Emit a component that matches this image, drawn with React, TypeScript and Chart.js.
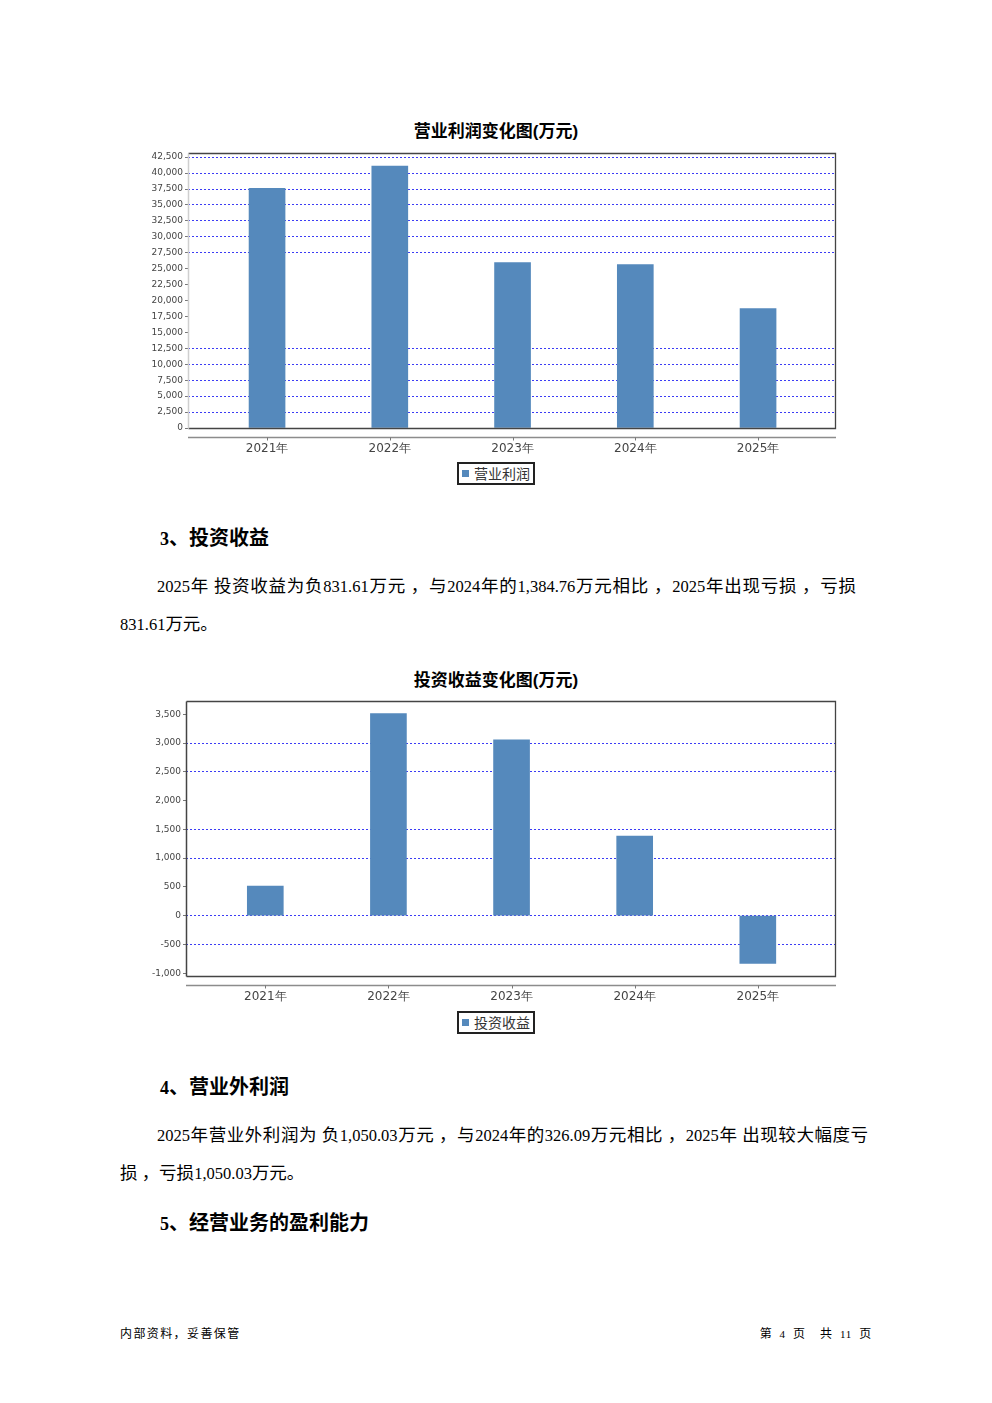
import React, { useEffect, useRef } from 'react';
import { Chart, registerables } from 'chart.js';

Chart.register(...registerables);

// ---- data ----
const categories = ['2021年', '2022年', '2023年', '2024年', '2025年'];
const operatingProfit = [37600, 41090, 25970, 25660, 18730];
const investmentIncome = [516, 3515, 3057, 1384.76, -831.61];

// axis settings (tick labels are multiples of the step)
const profitAxisMin = 0;
const profitAxisMax = 43150;
const profitStep = 2500;
const investAxisMin = -1049;
const investAxisMax = 3732;
const investStep = 500;
// grid lines that are not visible in the reference
const profitHiddenGrid = [0, 15000, 17500, 20000, 22500, 25000];
const investHiddenGrid = [3500, 2000, 500, -1000];

const xMin = -0.644;
const xMax = 4.635;

const BAR_COLOR = '#5589bc';
const GRID_COLOR = '#3c3cf5';

type BarProps = {
  label: string;
  values: number[];
  yMin: number;
  yMax: number;
  step: number;
  hidden: number[];
  yWidth: number;
  leftBorderColor: string;
  left: number;
  top: number;
};

function BarChart(p: BarProps) {
  const ref = useRef<HTMLCanvasElement>(null);
  useEffect(() => {
    const framePlugin = {
      id: 'frame',
      afterDraw(chart: any) {
        const { ctx, chartArea: a, scales } = chart;
        ctx.save();
        // category axis line below the plot
        const ay = Math.round(a.bottom + 9) + 0.5;
        ctx.strokeStyle = '#8c8c8c';
        ctx.lineWidth = 1.5;
        ctx.beginPath();
        ctx.moveTo(a.left, ay);
        ctx.lineTo(a.right, ay);
        ctx.stroke();
        ctx.strokeStyle = '#777';
        ctx.lineWidth = 1;
        categories.forEach((_, i) => {
          const x = Math.round(scales.x.getPixelForValue(i)) + 0.5;
          ctx.beginPath();
          ctx.moveTo(x, ay);
          ctx.lineTo(x, ay + 3);
          ctx.stroke();
        });
        // plot frame
        const l = Math.round(a.left) + 0.5;
        const r = Math.round(a.right) - 0.5;
        const t = Math.round(a.top) + 0.5;
        const b = Math.round(a.bottom) + 0.5;
        ctx.strokeStyle = '#444';
        ctx.lineWidth = 1.3;
        ctx.beginPath();
        ctx.moveTo(l, t);
        ctx.lineTo(r, t);
        ctx.lineTo(r, b);
        ctx.lineTo(l, b);
        ctx.stroke();
        ctx.strokeStyle = p.leftBorderColor;
        ctx.lineWidth = 1.5;
        ctx.beginPath();
        ctx.moveTo(l, t);
        ctx.lineTo(l, b);
        ctx.stroke();
        ctx.restore();
      },
    };

    const chart = new Chart(ref.current as HTMLCanvasElement, {
      type: 'bar',
      data: {
        datasets: [
          {
            label: p.label,
            data: p.values.map((v, i) => ({ x: i, y: v })),
            backgroundColor: BAR_COLOR,
            borderWidth: 0,
            barThickness: 36,
          } as any,
        ],
      },
      options: {
        animation: false,
        responsive: false,
        devicePixelRatio: 1,
        layout: { padding: { left: 0, right: 14, top: 8, bottom: 0 } },
        plugins: {
          legend: { display: false },
          tooltip: { enabled: false },
          title: { display: false },
        },
        scales: {
          x: {
            type: 'linear',
            min: xMin,
            max: xMax,
            offset: false,
            grid: { display: false, drawTicks: false },
            border: { display: false },
            afterBuildTicks: (s: any) => {
              s.ticks = categories.map((_, i) => ({ value: i }));
            },
            afterFit: (s: any) => {
              s.height = 37;
            },
            ticks: {
              autoSkip: false,
              padding: 14,
              color: '#444',
              font: { family: 'DejaVu Sans', size: 12 },
              callback: (v: any) => categories[Math.round(Number(v))] ?? '',
            },
          } as any,
          y: {
            type: 'linear',
            min: p.yMin,
            max: p.yMax,
            afterBuildTicks: (s: any) => {
              const ticks: { value: number }[] = [];
              for (let v = Math.ceil(p.yMin / p.step) * p.step; v <= p.yMax; v += p.step) {
                ticks.push({ value: v });
              }
              s.ticks = ticks;
            },
            afterFit: (s: any) => {
              s.width = p.yWidth;
            },
            grid: {
              color: (c: any) =>
                c.tick && p.hidden.includes(c.tick.value) ? 'rgba(0,0,0,0)' : GRID_COLOR,
              lineWidth: 1,
              tickLength: 3,
              tickColor: '#777',
              drawTicks: true,
            },
            border: { display: false, dash: [2, 2] },
            ticks: {
              stepSize: p.step,
              autoSkip: false,
              padding: 2,
              color: '#444',
              font: { family: 'DejaVu Sans', size: 9 },
              callback: (v: any) => Number(v).toLocaleString('en-US'),
            },
          } as any,
        },
      },
      plugins: [framePlugin],
    });
    return () => chart.destroy();
  }, []);
  return (
    <canvas
      ref={ref}
      width={720}
      height={320}
      style={{ position: 'absolute', left: p.left, top: p.top, width: 720, height: 320 }}
    />
  );
}

const serifLatin = '"Liberation Serif", serif';
const sansLatin = '"Liberation Sans", sans-serif';
const cjkFamily = '"Noto Sans CJK SC", sans-serif';
const CJK_RE = /([\u3000-\u303f\u3400-\u9fff\uff00-\uffef]+)/;

function Mixed(props: { text: string; latin: number; cjk: number; latinFamily: string }) {
  const parts = props.text.split(CJK_RE);
  return (
    <>
      {parts.map((s, i) =>
        s ? (
          <span
            key={i}
            style={{
              fontSize: i % 2 ? props.cjk : props.latin,
              fontFamily: i % 2 ? cjkFamily : props.latinFamily,
            }}
          >
            {s}
          </span>
        ) : null
      )}
    </>
  );
}

function Line(props: {
  text: string;
  left: number;
  top: number;
  width?: number;
  justify?: boolean;
  latin?: number;
  cjk?: number;
  bold?: boolean;
  latinFamily?: string;
  center?: boolean;
  spacing?: number;
  right?: number;
}) {
  const style: React.CSSProperties = {
    position: 'absolute',
    top: props.top,
    height: 24,
    lineHeight: '24px',
    fontWeight: props.bold ? 'bold' : 'normal',
    whiteSpace: 'pre',
    color: '#000',
    letterSpacing: props.spacing ?? 0,
  };
  if (props.right !== undefined) style.right = props.right;
  else style.left = props.left;
  if (props.width !== undefined) style.width = props.width;
  if (props.justify) {
    style.textAlign = 'justify';
    (style as any).textAlignLast = 'justify';
    style.whiteSpace = 'nowrap';
  }
  if (props.center) style.textAlign = 'center';
  return (
    <div style={style}>
      <Mixed
        text={props.text}
        latin={props.latin ?? 16.5}
        cjk={props.cjk ?? 17.5}
        latinFamily={props.latinFamily ?? serifLatin}
      />
    </div>
  );
}

function Legend(props: { text: string; top: number }) {
  return (
    <div
      style={{
        position: 'absolute',
        left: 457,
        top: props.top,
        width: 74,
        height: 19,
        border: '2px solid #222',
        background: '#fff',
      }}
    >
      <div
        style={{
          position: 'absolute',
          left: 3,
          top: 6,
          width: 7,
          height: 7,
          background: BAR_COLOR,
        }}
      />
      <div
        style={{
          position: 'absolute',
          left: 15,
          top: 0,
          height: 19,
          lineHeight: '19px',
          fontSize: 14,
          fontFamily: cjkFamily,
          color: '#333',
          whiteSpace: 'nowrap',
        }}
      >
        {props.text}
      </div>
    </div>
  );
}

export default function App() {
  return (
    <div
      style={{
        position: 'absolute',
        left: 0,
        top: 0,
        width: 992,
        height: 1403,
        background: '#fff',
        overflow: 'hidden',
      }}
    >
      <Line text="营业利润变化图(万元)" left={0} top={118} width={992} center bold latin={17} cjk={17} latinFamily={sansLatin} />
      <BarChart
        label="营业利润"
        values={operatingProfit}
        yMin={profitAxisMin}
        yMax={profitAxisMax}
        step={profitStep}
        hidden={profitHiddenGrid}
        yWidth={58}
        leftBorderColor="#cfcfcf"
        left={130}
        top={145}
      />
      <Legend text="营业利润" top={462} />

      <Line text="3、投资收益" left={160} top={525} bold latin={18} cjk={20} />
      <Line
        text="2025年 投资收益为负831.61万元 ，与2024年的1,384.76万元相比 ，2025年出现亏损 ，亏损"
        left={157}
        top={573}
        width={699}
        justify
      />
      <Line text="831.61万元。" left={120} top={611} />

      <Line text="投资收益变化图(万元)" left={0} top={667} width={992} center bold latin={17} cjk={17} latinFamily={sansLatin} />
      <BarChart
        label="投资收益"
        values={investmentIncome}
        yMin={investAxisMin}
        yMax={investAxisMax}
        step={investStep}
        hidden={investHiddenGrid}
        yWidth={56}
        leftBorderColor="#444"
        left={130}
        top={693}
      />
      <Legend text="投资收益" top={1011} />

      <Line text="4、营业外利润" left={160} top={1074} bold latin={18} cjk={20} />
      <Line
        text="2025年营业外利润为 负1,050.03万元 ，与2024年的326.09万元相比 ，2025年 出现较大幅度亏"
        left={157}
        top={1122}
        width={711}
        justify
      />
      <Line text="损 ，亏损1,050.03万元。" left={120} top={1160} />

      <Line text="5、经营业务的盈利能力" left={160} top={1210} bold latin={18} cjk={20} />

      <Line text="内部资料，妥善保管" left={120} top={1321} latin={12} cjk={12} spacing={1.4} />
      <Line text="第  4  页    共  11  页" left={0} right={992 - 872} top={1321} latin={11} cjk={12} spacing={0.8} />
    </div>
  );
}
